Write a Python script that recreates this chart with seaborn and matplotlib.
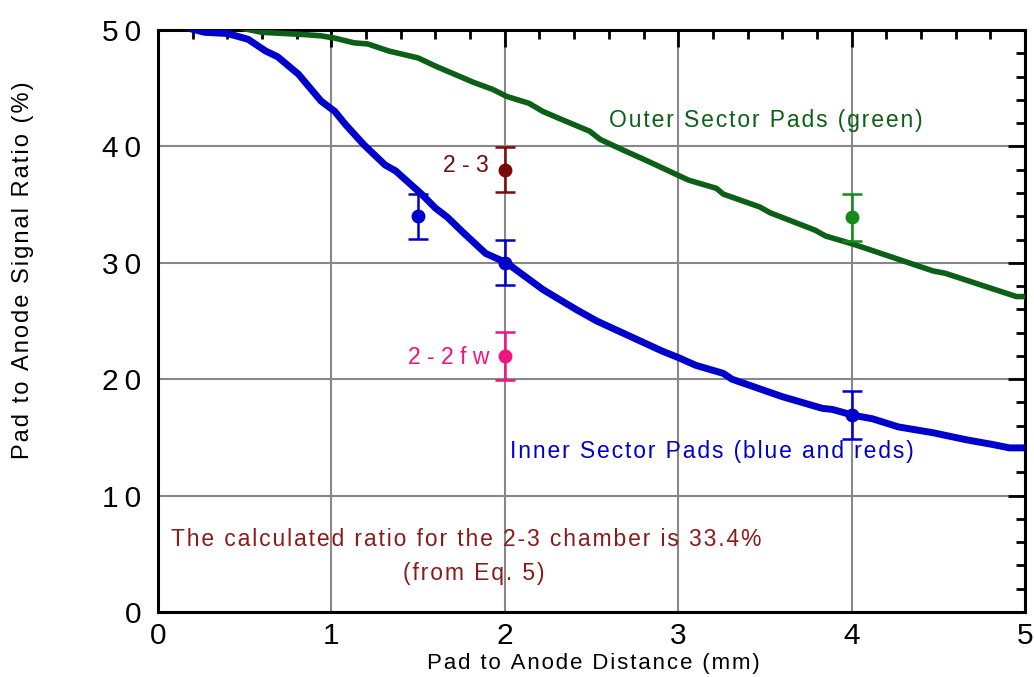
import numpy as np
import pandas as pd
import matplotlib
matplotlib.use("Agg")
import matplotlib.pyplot as plt
import seaborn as sns
from matplotlib.ticker import MultipleLocator

# ---- data ----
inner_x = [0.19, 0.27, 0.40, 0.52, 0.62, 0.69, 0.81, 0.94, 1.02, 1.08, 1.19, 1.31, 1.37,
           1.52, 1.60, 1.67, 1.76, 1.89, 2.01, 2.22, 2.41, 2.53, 2.72, 2.91, 3.01, 3.10,
           3.26, 3.31, 3.60, 3.83, 3.89, 4.01, 4.12, 4.27, 4.47, 4.66, 4.81, 4.91, 5.00]
inner_y = [50.1, 49.8, 49.7, 49.2, 48.2, 47.7, 46.2, 43.9, 43.0, 41.9, 40.1, 38.4, 37.9,
           35.9, 34.7, 33.9, 32.6, 30.8, 30.0, 27.7, 26.0, 25.0, 23.7, 22.4, 21.8, 21.2,
           20.5, 20.0, 18.5, 17.5, 17.4, 16.9, 16.6, 15.9, 15.4, 14.8, 14.4, 14.1, 14.1]
outer_x = [0.50, 0.60, 0.85, 0.94, 1.02, 1.13, 1.21, 1.33, 1.50, 1.60, 1.71, 1.82, 1.93,
           2.01, 2.14, 2.22, 2.33, 2.49, 2.55, 2.68, 2.80, 2.93, 3.06, 3.22, 3.26, 3.47,
           3.53, 3.79, 3.85, 4.01, 4.27, 4.47, 4.54, 4.95, 5.00]
outer_y = [50.1, 49.8, 49.6, 49.5, 49.3, 48.9, 48.8, 48.2, 47.6, 46.9, 46.2, 45.5, 44.9,
           44.3, 43.7, 43.0, 42.3, 41.3, 40.6, 39.7, 38.9, 38.0, 37.1, 36.4, 35.9, 34.8,
           34.3, 32.8, 32.3, 31.6, 30.3, 29.3, 29.1, 27.1, 27.1]

meas_x = [1.5, 2.0, 4.0, 2.0, 2.0, 4.0]
meas_y = [34.0, 30.0, 16.9, 38.0, 22.0, 33.9]
meas_err = [1.95, 1.95, 2.05, 1.95, 2.05, 2.05]
meas_group = ["inner", "inner", "inner", "2-3", "2-2fw", "outer"]

x_ticks = [0, 1, 2, 3, 4, 5]
y_ticks = [0, 10, 20, 30, 40, 50]

colors = {"inner": "#0000CC", "outer": "#0B5F16", "2-3": "#7A0A0A",
          "2-2fw": "#F0147F", "outer_pt": "#158A1A", "note": "#8B1A1A"}


def spaced(s):
    """Mimic the reference's letter spacing with hair spaces."""
    return "\u200a".join(s)


# ---- figure ----
sns.set_style("white")
plt.rcParams['font.family'] = ['Liberation Sans', 'DejaVu Sans']

fig = plt.figure(figsize=(10.34, 6.77), dpi=100)
ax = fig.add_axes([158 / 1034, 65 / 677, 867 / 1034, 582 / 677])

df_in = pd.DataFrame({"x": inner_x, "y": inner_y})
df_out = pd.DataFrame({"x": outer_x, "y": outer_y})
sns.lineplot(data=df_in, x="x", y="y", ax=ax, color=colors["inner"], lw=5,
             sort=False, estimator=None, zorder=4)
sns.lineplot(data=df_out, x="x", y="y", ax=ax, color=colors["outer"], lw=4,
             sort=False, estimator=None, zorder=4)

for x, y, e, g in zip(meas_x, meas_y, meas_err, meas_group):
    c = colors["outer_pt"] if g == "outer" else colors[g]
    ax.errorbar(x, y, yerr=e, fmt="o", color=c, ms=9, elinewidth=1.8,
                capsize=7, capthick=1.8, zorder=5)

ax.set_xlim(0, 5)
ax.set_ylim(0, 50)
ax.set_xticks(x_ticks)
ax.set_yticks(y_ticks)
ax.set_xticklabels(["\u2009".join(str(t)) for t in x_ticks], fontsize=21.5, color="black")
ax.set_yticklabels(["\u2009".join(str(t)) for t in y_ticks], fontsize=21.5, color="black")
ax.xaxis.set_minor_locator(MultipleLocator(0.2))
ax.yaxis.set_minor_locator(MultipleLocator(2))
ax.tick_params(which="both", direction="in", top=True, right=True, width=2, color="black")
ax.tick_params(which="major", length=12)
ax.tick_params(which="minor", length=6.5)
ax.tick_params(axis="y", which="major", pad=12)
ax.tick_params(axis="x", which="major", pad=7)
ax.grid(True, which="major", color="#888888", lw=1.5, zorder=0)
ax.set_axisbelow(True)
for s in ax.spines.values():
    s.set_linewidth(2.2)
    s.set_color("black")

ax.set_xlabel(spaced("Pad to Anode Distance (mm)"), fontsize=16, color="black")
ax.xaxis.set_label_coords(0.502, -0.088)
ax.xaxis.label.set_verticalalignment("center")
ax.set_ylabel(spaced("Pad to Anode Signal Ratio (%)"), fontsize=17, color="black")
ax.yaxis.set_label_coords(-0.156, 0.588)
ax.yaxis.label.set_verticalalignment("center")

ax.text(2.60, 42.2, spaced("Outer Sector Pads (green)"), color=colors["outer"],
        fontsize=16.5, va="center", ha="left")
ax.text(2.03, 13.76, spaced("Inner Sector Pads (blue and reds)"), color=colors["inner"],
        fontsize=16.5, va="center", ha="left")
ax.text(1.91, 38.4, "2 - 3", color=colors["2-3"], fontsize=16.5, va="center", ha="right")
ax.text(1.91, 21.9, "2 - 2 f w", color=colors["2-2fw"], fontsize=16.5, va="center", ha="right")
ax.text(1.78, 6.2, spaced("The calculated ratio for the 2-3 chamber is 33.4%"),
        color=colors["note"], fontsize=16.5, va="center", ha="center")
ax.text(1.82, 3.35, spaced("(from Eq. 5)"), color=colors["note"], fontsize=16.5,
        va="center", ha="center")

fig.savefig("out.png", dpi=100)
